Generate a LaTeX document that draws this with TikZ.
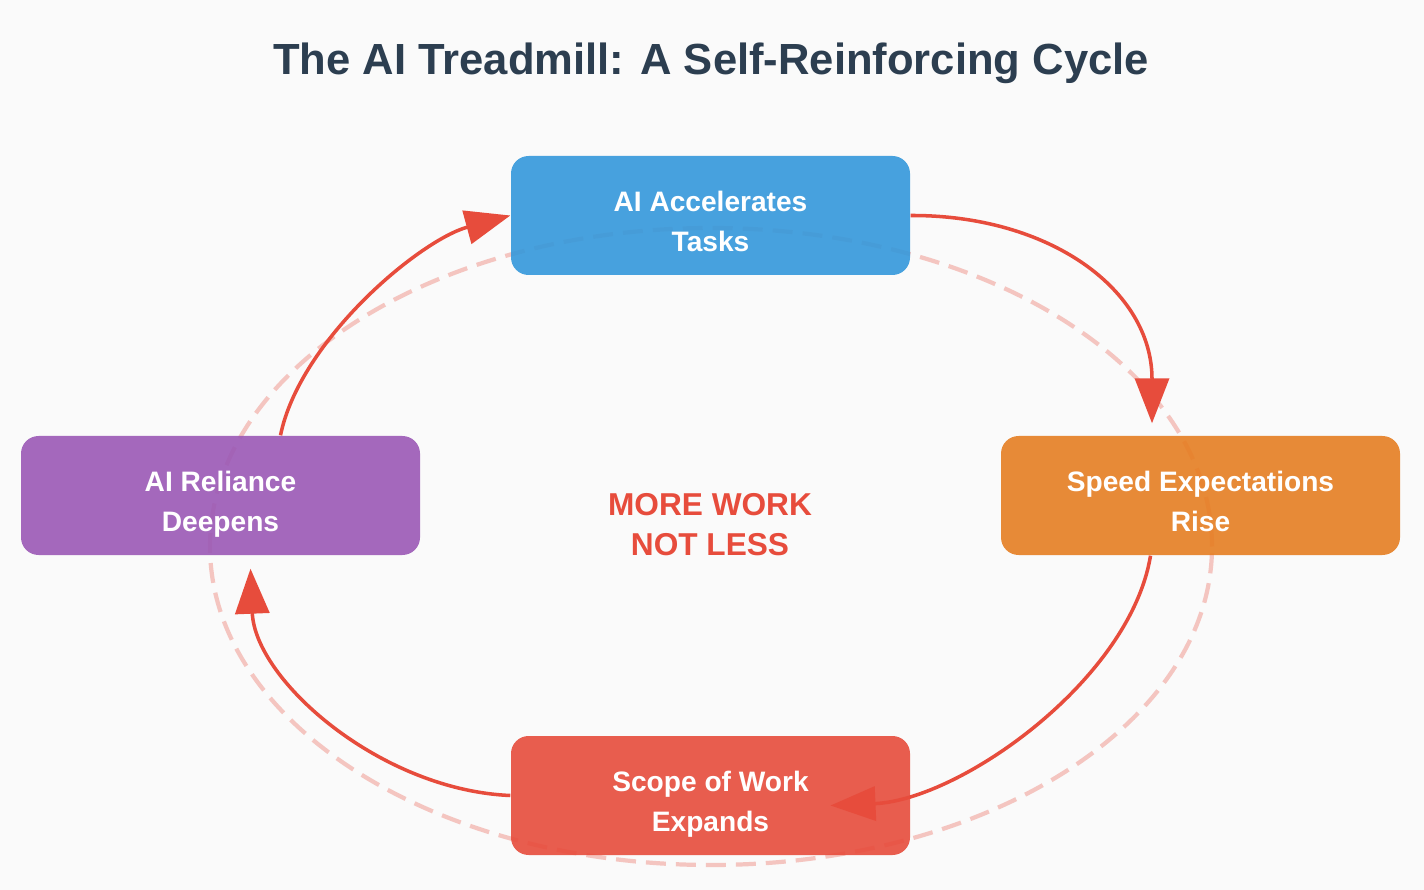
\documentclass[tikz,border=0pt]{standalone}
\usepackage{fontspec}
\setmainfont{Liberation Sans}
\usetikzlibrary{arrows.meta, positioning}
\definecolor{pagebg}{HTML}{FAFAFA}
\definecolor{titleink}{HTML}{2C3E50}
\definecolor{cyclered}{HTML}{E74C3C}
\definecolor{accelblue}{HTML}{3498DB}
\definecolor{speedorange}{HTML}{E67E22}
\definecolor{reliancepurple}{HTML}{9B59B6}

\begin{document}
\begin{tikzpicture}[
  stage/.style={rectangle, rounded corners=5pt, minimum width=3.99cm,
                minimum height=1.19cm, align=center, text=white,
                fill opacity=0.9, text opacity=1,
                text height=20.5pt, text depth=0pt,
                font=\bfseries\fontsize{8}{11.4}\selectfont},
  accelbox/.style={stage, fill=accelblue},
  speedbox/.style={stage, fill=speedorange},
  scopebox/.style={stage, fill=cyclered},
  reliancebox/.style={stage, fill=reliancepurple},
  ring/.style={draw=cyclered, draw opacity=0.3, line width=1.2pt,
               dash pattern=on 0.2cm off 0.1cm},
  loop/.style={-{Triangle[length=4.5mm, width=3.4mm]}, draw=cyclered, line width=1pt}
]
\fill[pagebg] (0,0) rectangle (14.24,-8.9);

\node[font=\bfseries\fontsize{12.4}{14}\selectfont, text=titleink] (title) at (7.11,-0.63)
  {The AI Treadmill: A Self-Reinforcing Cycle};

% faint loop behind the stages
\coordinate (hub) at (7.11,-5.465);
\draw[ring] (hub) ellipse [x radius=5.01, y radius=3.185];

\node[accelbox] (accel) at (7.105,-2.155) {AI Accelerates\\Tasks};
\node[speedbox] (speed) at (12.005,-4.955) {Speed Expectations\\Rise};
\node[scopebox] (scope) at (7.105,-7.955) {Scope of Work\\Expands};
\node[reliancebox] (reliance) at (2.205,-4.955) {AI Reliance\\Deepens};

\node[align=center, text=cyclered, font=\bfseries\fontsize{9}{11.4}\selectfont] (msg) at (7.1,-5.25)
  {MORE WORK\\NOT LESS};

\draw[loop] (accel.east) .. controls (10.5,-2.15) and (11.52,-2.9) .. ([xshift=-4.85mm, yshift=1.2mm]speed.north);
\draw[loop] ([xshift=-5mm]speed.south) .. controls (11.3,-6.8) and (9.6,-8.0) .. ([xshift=1.2cm, yshift=-1mm]scope.center);
\draw[loop] (scope.west) .. controls (3.8,-7.9) and (2.55,-6.8) .. ([xshift=3mm, yshift=-1.3mm]reliance.south);
\draw[loop] ([xshift=6mm]reliance.north) .. controls (3.0,-3.4) and (4.2,-2.4) .. (accel.west);
\end{tikzpicture}
\end{document}
